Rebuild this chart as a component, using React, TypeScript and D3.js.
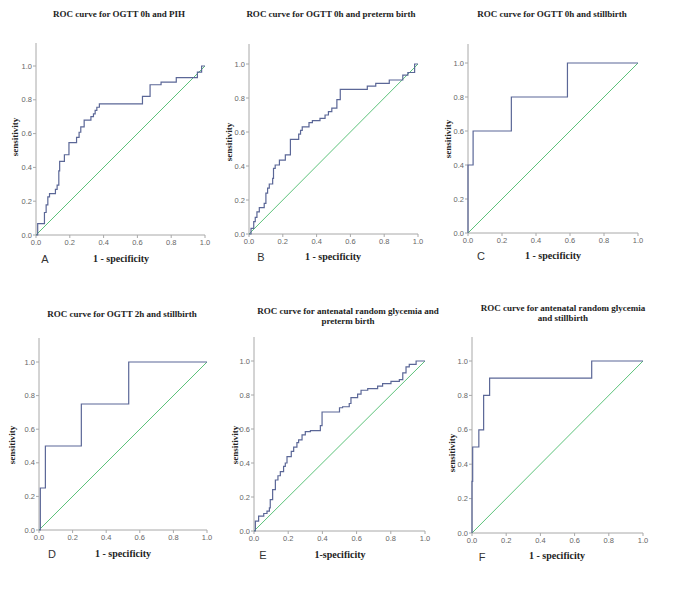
import React from "react";
import * as d3 from "d3";

// ROC data: each pair = [1 - specificity, sensitivity] at each step corner
const rocA: [number, number][] = [
  [0, 0], [0.01, 0.067], [0.05, 0.133], [0.06, 0.178], [0.07, 0.226], [0.08, 0.245],
  [0.115, 0.27], [0.125, 0.295], [0.135, 0.38], [0.14, 0.436], [0.168, 0.475],
  [0.195, 0.547], [0.24, 0.578], [0.255, 0.608], [0.265, 0.64], [0.285, 0.68],
  [0.325, 0.7], [0.34, 0.717], [0.35, 0.737], [0.36, 0.756], [0.375, 0.776],
  [0.63, 0.82], [0.675, 0.889], [0.74, 0.905], [0.83, 0.931], [0.955, 0.964],
  [0.98, 1.0], [1, 1],
];
const rocB: [number, number][] = [
  [0, 0], [0.012, 0.033], [0.028, 0.073], [0.037, 0.098], [0.047, 0.13], [0.061, 0.155],
  [0.09, 0.18], [0.1, 0.24], [0.11, 0.27], [0.12, 0.294], [0.14, 0.327], [0.145, 0.386],
  [0.155, 0.406], [0.18, 0.435], [0.215, 0.465], [0.245, 0.557], [0.294, 0.588],
  [0.305, 0.61], [0.315, 0.63], [0.355, 0.655], [0.375, 0.667], [0.42, 0.68],
  [0.45, 0.7], [0.47, 0.72], [0.49, 0.74], [0.52, 0.79], [0.54, 0.851], [0.7, 0.87],
  [0.75, 0.886], [0.83, 0.906], [0.91, 0.935], [0.94, 0.95], [0.98, 1.0], [1, 1],
];
const rocC: [number, number][] = [
  [0, 0], [0, 0.4], [0.03, 0.6], [0.255, 0.8], [0.585, 1.0], [1, 1],
];
const rocD: [number, number][] = [
  [0, 0], [0.008, 0.25], [0.038, 0.5], [0.252, 0.75], [0.534, 1.0], [1, 1],
];
const rocE: [number, number][] = [
  [0, 0], [0.008, 0.058], [0.027, 0.088], [0.057, 0.103], [0.076, 0.117], [0.09, 0.136],
  [0.095, 0.185], [0.109, 0.243], [0.125, 0.3], [0.14, 0.325], [0.154, 0.349],
  [0.173, 0.38], [0.183, 0.4], [0.193, 0.438], [0.218, 0.468], [0.232, 0.493],
  [0.251, 0.52], [0.261, 0.536], [0.281, 0.565], [0.3, 0.585], [0.33, 0.59],
  [0.388, 0.62], [0.398, 0.7], [0.5, 0.725], [0.518, 0.731], [0.557, 0.75],
  [0.567, 0.785], [0.606, 0.805], [0.626, 0.828], [0.665, 0.838], [0.723, 0.852],
  [0.752, 0.867], [0.801, 0.88], [0.85, 0.89], [0.87, 0.93], [0.889, 0.965],
  [0.908, 0.98], [0.948, 1.0], [1, 1],
];
const rocF: [number, number][] = [
  [0, 0], [0, 0.3], [0.004, 0.5], [0.04, 0.6], [0.068, 0.8], [0.103, 0.9], [0.7, 1.0], [1, 1],
];

const titles: string[][] = [
  ["ROC curve for OGTT 0h and PIH"],
  ["ROC curve for OGTT 0h and preterm birth"],
  ["ROC curve for OGTT 0h and stillbirth"],
  ["ROC curve for OGTT 2h and stillbirth"],
  ["ROC curve for antenatal random glycemia and", "preterm birth"],
  ["ROC curve for antenatal random glycemia", "and stillbirth"],
];
const panelLetters = ["A", "B", "C", "D", "E", "F"];
const xLabels = ["1 - specificity", "1 - specificity", "1 - specificity", "1 - specificity", "1-specificity", "1 - specificity"];
const yLabel = "sensitivity";
const tickValues = [0, 0.2, 0.4, 0.6, 0.8, 1.0];
const series = [rocA, rocB, rocC, rocD, rocE, rocF];

// layout (pixel geometry of each panel)
const layout = [
  { x0: 36, x1: 205, y0: 235, y1: 66, top: 43, tx: 119, ty: 14, yl: 15, ylc: 137, xlx: 121, xly: 258, lx: 45, ly: 259 },
  { x0: 249, x1: 418, y0: 234, y1: 64, top: 44, tx: 331, ty: 14, yl: 229, ylc: 142, xlx: 333, xly: 256, lx: 261, ly: 257 },
  { x0: 468, x1: 638, y0: 233, y1: 63, top: 44, tx: 552, ty: 14, yl: 448, ylc: 139, xlx: 553, xly: 255, lx: 481, ly: 256 },
  { x0: 39, x1: 207, y0: 530, y1: 362, top: 338, tx: 122, ty: 314, yl: 12, ylc: 445, xlx: 123, xly: 553, lx: 52, ly: 554 },
  { x0: 254, x1: 425, y0: 531, y1: 361, top: 337, tx: 348, ty: 311, yl: 235, ylc: 445, xlx: 340, xly: 554, lx: 263, ly: 555 },
  { x0: 472, x1: 643, y0: 533, y1: 361, top: 337, tx: 563, ty: 308, yl: 452, ylc: 453, xlx: 557, xly: 555, lx: 482, ly: 557 },
];

const CURVE = "#5b6797";
const DIAG = "#5cc27a";
const AXIS = "#a8a8a8";
const serif = "'Liberation Serif', 'Times New Roman', serif";
const sans = "'Liberation Sans', Arial, sans-serif";

function Panel({ i }: { i: number }) {
  const L = layout[i];
  const x = d3.scaleLinear().domain([0, 1]).range([L.x0, L.x1]);
  const y = d3.scaleLinear().domain([0, 1]).range([L.y0, L.y1]);
  const line = d3
    .line<[number, number]>()
    .x((d) => x(d[0]))
    .y((d) => y(d[1]))
    .curve(d3.curveStepAfter);
  const diag = d3
    .line<[number, number]>()
    .x((d) => x(d[0]))
    .y((d) => y(d[1]));
  return (
    <g>
      {titles[i].map((t, k) => (
        <text key={k} x={L.tx} y={L.ty + k * 10 + 3} textAnchor="middle" fontFamily={serif} fontWeight="bold" fontSize={9} fill="#222">
          {t}
        </text>
      ))}
      {/* axes */}
      <line x1={L.x0} x2={L.x0} y1={L.top} y2={L.y0} stroke={AXIS} strokeWidth={1} />
      <line x1={L.x0} x2={L.x1} y1={L.y0} y2={L.y0} stroke={AXIS} strokeWidth={1} />
      {tickValues.map((v) => (
        <g key={"y" + v}>
          <line x1={L.x0 - 3} x2={L.x0} y1={y(v)} y2={y(v)} stroke={AXIS} />
          <text x={L.x0 - 4} y={y(v) + 2.5} textAnchor="end" fontFamily={sans} fontSize={7.5} fill="#666">
            {d3.format(".1f")(v)}
          </text>
        </g>
      ))}
      {tickValues.map((v) => (
        <g key={"x" + v}>
          <line x1={x(v)} x2={x(v)} y1={L.y0} y2={L.y0 + 3} stroke={AXIS} />
          <text x={x(v)} y={L.y0 + 10} textAnchor="middle" fontFamily={sans} fontSize={7.5} fill="#666">
            {d3.format(".1f")(v)}
          </text>
        </g>
      ))}
      <path d={diag([[0, 0], [1, 1]]) || ""} stroke={DIAG} strokeWidth={1} fill="none" />
      <path d={line(series[i]) || ""} stroke={CURVE} strokeWidth={1.2} fill="none" />
      <text
        transform={`translate(${L.yl + 3},${L.ylc}) rotate(-90)`}
        textAnchor="middle"
        fontFamily={serif}
        fontWeight="bold"
        fontSize={9}
        fill="#222"
      >
        {yLabel}
      </text>
      <text x={L.xlx} y={L.xly + 3.5} textAnchor="middle" fontFamily={serif} fontWeight="bold" fontSize={10} fill="#222">
        {xLabels[i]}
      </text>
      <text x={L.lx} y={L.ly + 4} textAnchor="middle" fontFamily={sans} fontSize={11} fill="#333">
        {panelLetters[i]}
      </text>
    </g>
  );
}

export default function App() {
  return (
    <svg
      width={685}
      height={592}
      style={{ position: "absolute", left: 0, top: 0, background: "#fff" }}
    >
      <rect width={685} height={592} fill="#fff" />
      {layout.map((_, i) => (
        <Panel key={i} i={i} />
      ))}
    </svg>
  );
}
